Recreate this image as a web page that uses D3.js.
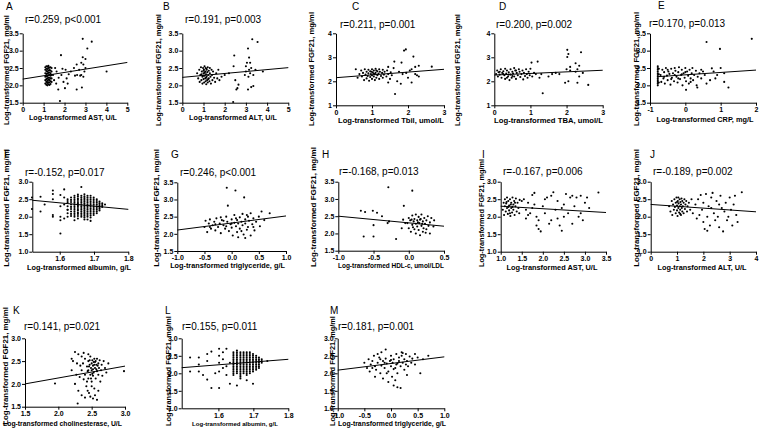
<!DOCTYPE html>
<html><head><meta charset="utf-8">
<script src="https://cdn.jsdelivr.net/npm/d3@7"></script>
<style>body{margin:0;background:#fff}svg{display:block}text{font-family:"Liberation Sans",Arial,sans-serif}</style>
</head><body><svg id="c" width="760" height="430"></svg>
<script>
// ---------- DATA ----------
const letters = ["A","B","C","D","E","F","G","H","I","J","K","L","M"];
const rTexts = ["r=0.259, p<0.001","r=0.191, p=0.003","r=0.211, p=0.001","r=0.200, p=0.002","r=0.170, p=0.013",
  "r=-0.152, p=0.017","r=0.246, p<0.001","r=-0.168, p=0.013","r=-0.167, p=0.006","r=-0.189, p=0.002",
  "r=0.141, p=0.021","r=0.155, p=0.011","r=0.181, p=0.001"];
const yTitle = "Log-transformed FGF21, mg/ml";
const xTitles = ["Log-transformed AST, U/L","Log-transformed ALT, U/L","Log-transformed Tbil, umol/L","Log-transformed TBA, umol/L",
  "Log-transformed CRP, mg/L","Log-transformed albumin, g/L","Log-transformed triglyceride, g/L","Log-transformed HDL-c, umol/LDL",
  "Log-transformed AST, U/L","Log-transformed ALT, U/L","Log-transformed cholinesterase, U/L","Log-transformed albumin, g/L",
  "Log-transformed triglyceride, g/L"];
const xDomains = [[0,5],[0,5],[0,3],[0,3],[-1,2],[1.52,1.8],[-1,1],[-1,0.5],[1,3.5],[0,4],[1.5,3],[1.495,1.8],[-1,1]];
const yDomains = [[1.5,3.5],[1.5,3.5],[1,4],[1,4],[1.5,3.5],[1,3],[1.5,3.5],[1.5,3.5],[1,3],[1,3],[1.5,3],[1,3],[1,3]];
const xTickVals = [[0,1,2,3,4,5],[0,1,2,3,4,5],[0,1,2,3],[0,1,2,3],[-1,0,1,2],[1.6,1.7,1.8],[-1,-0.5,0,0.5,1],
  [-1,-0.5,0,0.5],[1,1.5,2,2.5,3,3.5],[0,1,2,3,4],[1.5,2,2.5,3],[1.6,1.7,1.8],[-1,-0.5,0,0.5,1]];
const yTickVals = [[1.5,2,2.5,3,3.5],[1.5,2,2.5,3,3.5],[1,2,3,4],[1,2,3,4],[1.5,2,2.5,3,3.5],[1,1.5,2,2.5,3],
  [1.5,2,2.5,3,3.5],[1.5,2,2.5,3,3.5],[1,1.5,2,2.5,3],[1,1.5,2,2.5,3],[1.5,2,2.5,3],[1,1.5,2,2.5,3],[1,1.5,2,2.5,3]];
const xTickDec = [0,0,0,0,0,1,1,1,1,0,1,1,1];
const yTickDec = [1,1,0,0,1,1,1,1,1,1,1,1,1];
const lineX = [[0,5],[0,5],[0,3],[0,3],[-0.78,2],[1.52,1.8],[-1,1],[-1,0.5],[1,3.5],[0,4],[1.5,3],[1.495,1.8],[-1,1]];
const lineY = [[2.18,2.66],[2.23,2.51],[2.15,2.5],[2.26,2.46],[2.25,2.44],[2.47,2.21],[2.11,2.52],[2.5,2.21],[2.3,2.12],[2.35,2.14],[2.0,2.39],[2.16,2.4],[2.09,2.47]];

const ptsA = [[1.08,2.05],[1.08,2.15],[1.08,2.25],[1.08,2.35],[1.08,2.45],[1.08,2.52],
[1.13,2.02],[1.13,2.1],[1.13,2.18],[1.13,2.26],[1.13,2.33],[1.13,2.41],[1.13,2.48],[1.13,2.55],
[1.18,2.0],[1.18,2.07],[1.18,2.13],[1.18,2.2],[1.18,2.27],[1.18,2.34],[1.18,2.4],[1.18,2.47],[1.18,2.54],
[1.23,2.03],[1.23,2.09],[1.23,2.16],[1.23,2.22],[1.23,2.29],[1.23,2.36],[1.23,2.43],[1.23,2.5],[1.23,2.56],
[1.28,2.01],[1.28,2.08],[1.28,2.15],[1.28,2.22],[1.28,2.3],[1.28,2.37],[1.28,2.44],[1.28,2.51],
[1.33,2.04],[1.33,2.12],[1.33,2.2],[1.33,2.28],[1.33,2.35],[1.33,2.43],[1.33,2.52],
[1.38,2.1],[1.38,2.2],[1.38,2.3],[1.38,2.4],[1.38,2.5],
[1.45,2.3],[1.5,2.15],[1.55,2.5],[1.6,2.05],[1.62,2.4],[1.7,1.88],[1.72,2.22],[1.78,1.55],[1.83,2.87],[1.85,2.3],
[1.9,2.48],[1.95,2.1],[2.02,1.92],[2.05,2.45],[2.1,2.2],[2.15,2.05],[2.2,2.32],[2.3,2.4],[2.45,2.5],[2.5,2.28],
[2.58,2.6],[2.58,1.88],[2.6,2.3],[2.7,2.45],[2.8,2.65],[2.8,2.3],[2.83,1.94],[2.87,2.81],[2.87,3.34],[2.9,2.25],
[2.95,2.4],[3.0,2.76],[3.0,2.5],[3.09,3.06],[3.3,3.26],[4.01,2.4],[2.75,2.28],[2.9,2.6]];
const ptsB = [[0.7,2.35],[0.75,2.2],[0.8,2.45],[0.82,2.1],[0.85,2.3],[0.88,2.52],[0.9,2.15],[0.92,2.4],[0.95,2.25],[0.95,2.05],
[0.98,2.5],[1.0,2.35],[1.0,2.18],[1.02,2.45],[1.03,2.08],[1.05,2.28],[1.05,2.55],[1.08,2.4],[1.08,2.2],[1.1,2.12],[1.1,2.5],
[1.12,2.32],[1.13,2.03],[1.15,2.45],[1.15,2.25],[1.17,2.15],[1.18,2.38],[1.2,2.52],[1.2,2.08],[1.22,2.3],[1.25,2.42],[1.25,2.2],
[1.28,2.12],[1.3,2.5],[1.3,2.35],[1.33,2.25],[1.35,2.05],[1.38,2.45],[1.4,2.3],[1.42,2.15],[1.45,2.4],[1.5,2.22],[1.55,2.1],
[1.6,2.35],[1.65,2.2],[1.7,2.45],[1.75,2.15],[0.98,2.28],[1.06,2.36],[1.14,2.48],[1.22,2.18],[1.0,2.42],[1.12,2.22],[0.9,2.32],
[1.85,2.25],[2.0,2.3],[2.2,2.35],[2.4,1.52],[2.42,2.55],[2.45,2.86],[2.5,2.15],[2.55,1.88],[2.6,1.92],[2.65,2.02],[2.95,2.3],
[3.0,2.4],[3.05,2.65],[3.1,3.06],[3.1,1.88],[3.12,2.25],[3.15,2.8],[3.2,2.35],[3.2,2.65],[3.25,1.95],[3.25,2.5],[3.3,3.33],
[3.35,1.98],[3.35,2.3],[3.45,2.45],[3.55,3.25],[3.8,2.4],[3.0,2.55],[3.15,2.45]];
const ptsC = [[0.55,2.5],[0.6,2.15],[0.65,2.3],[0.7,2.45],[0.72,2.2],[0.75,2.35],[0.78,2.05],[0.8,2.5],[0.82,2.28],[0.85,2.4],
[0.85,2.12],[0.88,2.22],[0.9,2.48],[0.9,2.33],[0.92,2.02],[0.95,2.42],[0.95,2.18],[0.97,2.3],[1.0,2.5],[1.0,2.25],[1.0,2.1],
[1.02,2.38],[1.05,2.45],[1.05,2.2],[1.07,2.3],[1.08,2.05],[1.1,2.52],[1.1,2.35],[1.12,2.15],[1.15,2.42],[1.15,2.25],[1.18,2.32],
[1.2,2.5],[1.2,2.1],[1.22,2.4],[1.25,2.22],[1.28,2.35],[1.3,2.48],[1.3,2.15],[1.33,2.28],[1.35,2.4],[1.4,2.2],[1.42,2.45],
[1.45,2.3],[1.45,1.95],[1.5,2.1],[1.52,2.38],[1.55,2.25],[1.6,2.55],[0.98,2.4],[1.04,2.32],[1.12,2.45],
[1.62,2.82],[1.64,1.47],[1.7,2.0],[1.75,2.4],[1.8,1.9],[1.82,2.78],[1.85,2.3],[1.89,3.28],[1.94,3.33],[1.95,2.35],[2.0,2.15],
[2.05,2.45],[2.1,2.5],[2.1,1.95],[2.15,3.03],[2.2,2.6],[2.2,2.3],[2.25,2.25],[2.3,2.65],[2.3,2.2],[2.66,2.61],[1.45,2.6]];
const ptsD = [[0.05,2.3],[0.08,2.45],[0.1,2.2],[0.12,2.38],[0.15,2.28],[0.18,2.5],[0.2,2.15],[0.22,2.35],[0.25,2.42],[0.28,2.25],
[0.3,2.52],[0.3,2.1],[0.33,2.32],[0.35,2.45],[0.38,2.2],[0.4,2.38],[0.42,2.05],[0.45,2.5],[0.45,2.28],[0.48,2.15],[0.5,2.4],
[0.52,2.32],[0.55,2.55],[0.55,2.2],[0.58,2.45],[0.6,2.1],[0.62,2.35],[0.65,2.25],[0.68,2.5],[0.7,2.4],[0.72,2.18],[0.75,2.3],
[0.78,2.45],[0.8,2.08],[0.82,2.35],[0.85,2.22],[0.88,2.5],[0.9,2.3],[0.92,2.15],[0.95,2.4],[0.98,2.25],[1.0,2.52],[1.05,2.2],
[1.1,2.35],[0.25,2.3],[0.4,2.28],[0.5,2.22],[0.6,2.45],[0.35,2.15],[0.15,2.4],
[1.03,2.78],[1.15,2.3],[1.2,2.82],[1.25,2.15],[1.3,2.3],[1.34,1.5],[1.5,2.2],[1.6,2.3],[1.7,2.35],[1.8,2.3],[1.96,1.94],
[2.0,2.5],[2.02,3.31],[2.02,3.01],[2.05,2.0],[2.05,3.14],[2.1,2.45],[2.1,2.6],[2.25,2.75],[2.25,2.4],[2.3,2.5],[2.3,1.94],
[2.35,2.65],[2.35,2.2],[2.4,3.21],[2.45,2.35],[2.6,1.85]];
const ptsE = [[-0.78,2.0],[-0.78,2.05],[-0.78,2.1],[-0.78,2.15],[-0.78,2.2],[-0.78,2.25],[-0.78,2.3],[-0.78,2.35],[-0.78,2.4],
[-0.78,2.45],[-0.78,2.5],[-0.78,2.55],[-0.75,2.08],[-0.75,2.32],[-0.75,2.48],
[-0.7,2.3],[-0.68,2.1],[-0.65,2.45],[-0.62,2.2],[-0.6,2.38],[-0.58,2.05],[-0.55,2.5],[-0.52,2.28],[-0.5,2.15],[-0.48,2.4],
[-0.45,2.33],[-0.42,2.02],[-0.4,2.48],[-0.38,2.22],[-0.35,2.35],[-0.32,2.12],[-0.3,2.5],[-0.28,2.42],[-0.25,2.25],[-0.22,2.08],
[-0.2,2.38],[-0.18,2.52],[-0.15,2.18],[-0.12,2.3],[-0.1,2.45],[-0.08,2.0],[-0.05,2.35],[-0.02,2.22],[0.0,2.5],[0.02,2.12],
[0.05,2.4],[0.08,2.28],[0.1,2.05],[0.12,2.45],[0.15,2.2],[0.18,2.35],[0.2,2.5],[0.22,2.15],[0.25,2.3],[0.3,2.42],[0.32,2.0],
[0.35,2.25],[0.4,2.35],[-0.6,2.25],[-0.5,2.45],[-0.4,2.18],[-0.3,2.3],[-0.2,2.2],[-0.1,2.32],[0.0,2.38],
[0.02,1.87],[0.15,2.1],[0.34,1.94],[0.45,2.2],[0.5,2.4],[0.55,2.3],[0.6,3.25],[0.7,2.15],[0.75,2.49],[0.8,2.4],[0.85,2.2],
[0.9,2.3],[0.98,3.05],[1.0,2.5],[1.1,2.35],[1.1,2.1],[1.22,1.94],[1.88,3.34],[0.6,2.05],[0.45,2.45]];
const ptsF = [[1.519,2.55],[1.519,2.22],[1.544,2.57],[1.544,2.15],[1.556,2.35],[1.58,2.75],[1.58,2.65],[1.58,2.5],[1.58,2.05],
[1.58,2.0],[1.602,2.62],[1.602,2.3],[1.602,2.0],[1.602,1.9],[1.602,1.52],[1.613,2.55],[1.613,2.78],[1.613,2.35],[1.613,1.95],
[1.623,2.2],[1.623,2.45],[1.663,2.85],[1.643,1.9],[1.69,1.88],[1.681,1.92]];
const stripesF = [[1.623,[2.0,2.1,2.2,2.3,2.4,2.5]],
[1.633,[2.02,2.08,2.15,2.22,2.28,2.35,2.42,2.48,2.55]],
[1.643,[2.0,2.05,2.1,2.15,2.2,2.25,2.3,2.35,2.4,2.45,2.5,2.55,2.6]],
[1.653,[1.95,2.02,2.08,2.12,2.18,2.22,2.28,2.33,2.38,2.42,2.48,2.52,2.58,2.63]],
[1.663,[2.0,2.05,2.1,2.15,2.2,2.25,2.3,2.35,2.4,2.45,2.5,2.55,2.6]],
[1.672,[1.92,1.98,2.03,2.08,2.13,2.18,2.23,2.28,2.33,2.38,2.43,2.48,2.53,2.58,2.64]],
[1.681,[2.0,2.05,2.1,2.15,2.2,2.25,2.3,2.35,2.4,2.45,2.5,2.55,2.6]],
[1.690,[1.98,2.04,2.09,2.14,2.19,2.24,2.29,2.34,2.39,2.44,2.49,2.54,2.6]],
[1.699,[2.05,2.1,2.15,2.2,2.25,2.3,2.35,2.4,2.45,2.5,2.55]],
[1.708,[2.1,2.15,2.2,2.25,2.3,2.35,2.4,2.45,2.5]],
[1.716,[2.18,2.23,2.28,2.33,2.38,2.43]],
[1.724,[2.28,2.33,2.38]],
[1.732,[2.35]]];
const ptsG = [[-0.5,2.2],[-0.48,2.38],[-0.45,2.05],[-0.42,2.3],[-0.4,2.42],[-0.38,2.15],[-0.35,2.25],[-0.32,2.35],[-0.3,2.1],
[-0.28,2.45],[-0.25,2.2],[-0.22,2.3],[-0.2,2.02],[-0.18,2.4],[-0.15,2.25],[-0.12,2.15],[-0.1,2.5],[-0.08,2.35],[-0.05,2.08],
[-0.02,2.28],[0.0,2.42],[0.0,2.18],[0.02,1.95],[0.05,2.32],[0.05,2.55],[0.08,2.22],[0.1,2.4],[0.1,2.05],[0.12,2.3],[0.15,2.48],
[0.15,2.15],[0.18,2.35],[0.2,2.25],[0.2,2.58],[0.22,1.98],[0.25,2.42],[0.25,2.3],[0.28,2.12],[0.3,2.5],[0.3,2.2],[0.32,2.38],
[0.35,1.95],[0.35,2.6],[0.38,2.28],[0.4,2.45],[0.42,2.1],[0.45,2.35],[0.5,2.5],[0.52,2.22],[0.55,2.65],[0.6,2.4],[0.7,2.6],
[-0.3,2.28],[-0.1,2.22],[0.08,2.45],[-0.2,2.48],[0.0,2.3],[0.18,2.08],[-0.4,2.2],[0.4,2.2],[0.28,2.55],[-0.15,2.38],[0.12,1.9],
[0.25,1.88],[-0.09,3.34],[0.07,3.26],[0.23,3.06],[-0.07,2.82]];
const ptsH = [[-0.02,2.3],[0.0,2.45],[0.0,2.15],[0.02,2.38],[0.03,2.05],[0.05,2.25],[0.05,2.52],[0.07,2.35],[0.08,2.12],[0.08,2.42],
[0.1,2.28],[0.1,2.0],[0.1,2.55],[0.12,2.2],[0.12,2.38],[0.14,2.48],[0.14,2.1],[0.15,2.3],[0.16,1.95],[0.17,2.42],[0.18,2.22],
[0.18,2.55],[0.2,2.35],[0.2,2.05],[0.21,2.15],[0.22,2.45],[0.23,2.28],[0.25,2.38],[0.25,2.12],[0.27,2.5],[0.28,2.22],[0.3,2.32],
[0.3,2.0],[0.32,2.45],[0.35,2.2],[0.36,2.38],[0.06,2.18],[0.13,2.32],[0.19,2.28],[0.24,2.02],[0.16,2.4],[0.04,2.4],
[-0.68,2.66],[-0.62,2.62],[-0.64,1.91],[-0.51,2.66],[-0.5,2.24],[-0.5,1.91],[-0.45,2.6],[-0.38,2.5],[-0.3,2.3],[-0.28,2.35],
[-0.29,3.34],[-0.18,1.84],[-0.1,2.15],[-0.08,2.4],[-0.07,2.8],[-0.05,2.3],[0.05,3.24]];
const ptsI = [[1.05,2.2],[1.07,2.4],[1.08,2.05],[1.1,2.3],[1.1,2.5],[1.12,2.15],[1.13,2.38],[1.15,2.25],[1.15,2.55],[1.17,2.08],
[1.18,2.45],[1.2,2.32],[1.2,2.18],[1.22,2.5],[1.23,2.02],[1.25,2.4],[1.25,2.25],[1.27,2.12],[1.28,2.55],[1.3,2.35],[1.3,2.2],
[1.32,2.45],[1.33,2.05],[1.35,2.3],[1.36,2.52],[1.38,2.15],[1.4,2.4],[1.42,2.25],[1.44,2.1],[1.45,2.48],[1.18,2.28],[1.24,2.35],
[1.28,2.28],[1.14,2.42],[1.22,2.1],[1.34,2.4],
[1.5,2.45],[1.55,2.5],[1.6,2.2],[1.65,2.4],[1.7,2.1],[1.75,2.62],[1.8,2.68],[1.8,2.35],[1.85,2.0],[1.85,1.75],[1.9,1.9],
[1.9,1.65],[1.95,1.58],[2.0,2.3],[2.05,2.1],[2.1,2.55],[2.15,1.8],[2.2,1.9],[2.2,2.6],[2.25,2.7],[2.3,2.2],[2.35,2.45],
[2.35,1.95],[2.4,1.75],[2.45,1.6],[2.5,2.35],[2.5,2.0],[2.55,2.65],[2.6,2.1],[2.65,2.55],[2.7,1.8],[2.75,2.3],[2.8,2.55],
[2.85,2.0],[2.9,2.6],[2.95,1.9],[3.1,2.25],[2.9,2.1],[2.7,2.6],[3.0,2.4],[3.32,2.69],[1.6,1.95],[1.75,2.25],[2.05,2.5],
[2.45,2.25],[3.05,2.55],[1.65,2.05]];
const ptsJ = [[0.7,2.3],[0.75,2.15],[0.8,2.45],[0.82,2.05],[0.85,2.35],[0.88,2.2],[0.9,2.5],[0.92,2.28],[0.95,2.1],[0.95,2.4],
[0.98,2.55],[1.0,2.32],[1.0,2.18],[1.02,2.02],[1.03,2.45],[1.05,2.25],[1.06,2.38],[1.08,2.12],[1.1,2.5],[1.1,2.3],[1.12,2.2],
[1.13,2.42],[1.15,2.05],[1.15,2.35],[1.17,2.52],[1.18,2.25],[1.2,2.15],[1.2,2.45],[1.22,2.3],[1.25,2.4],[1.25,2.1],[1.28,2.5],
[1.3,2.22],[1.32,2.35],[1.35,2.45],[1.38,2.15],[1.4,2.3],[1.05,2.55],[1.12,2.08],[1.0,2.42],
[1.45,2.4],[1.5,2.2],[1.55,2.5],[1.6,2.1],[1.7,2.35],[1.75,1.95],[1.8,2.5],[1.9,2.62],[1.95,2.2],[2.0,1.85],[2.0,2.4],
[2.05,1.65],[2.1,2.65],[2.15,2.0],[2.15,1.6],[2.2,2.3],[2.25,1.75],[2.3,2.55],[2.35,2.68],[2.4,2.1],[2.45,1.9],[2.5,2.45],
[2.55,2.0],[2.6,1.7],[2.65,2.6],[2.7,2.25],[2.75,1.58],[2.8,2.15],[2.85,2.4],[2.9,1.9],[3.0,2.55],[3.05,2.2],[3.1,1.75],
[3.2,2.6],[3.25,2.05],[3.3,1.85],[3.46,2.7],[3.15,2.35],[2.6,2.35],[1.85,2.05],[2.3,2.25],[2.95,2.0]];
const ptsK = [[2.35,2.3],[2.37,2.45],[2.38,2.1],[2.4,2.2],[2.4,2.55],[2.42,1.95],[2.43,2.38],[2.44,2.28],[2.45,2.5],[2.45,2.12],
[2.46,1.8],[2.47,2.42],[2.48,2.2],[2.48,2.6],[2.49,2.35],[2.5,2.05],[2.5,2.45],[2.5,2.3],[2.51,2.52],[2.52,2.18],[2.52,2.4],
[2.53,2.25],[2.54,2.55],[2.54,1.9],[2.55,2.35],[2.55,2.48],[2.56,2.12],[2.57,2.42],[2.58,2.28],[2.58,2.55],[2.6,2.2],[2.6,2.45],
[2.61,2.35],[2.62,2.52],[2.63,2.05],[2.64,2.3],[2.65,2.42],[2.66,2.18],[2.68,2.5],[2.7,2.35],[2.72,2.25],[2.48,1.72],
[2.52,1.68],[2.55,1.75],[2.58,1.65],[2.44,1.85],[2.5,1.95],[2.53,2.48],[2.47,2.52],[2.56,2.5],[2.43,2.05],[2.6,1.85],
[2.46,2.38],[2.51,2.22],[2.57,2.32],[2.49,2.12],[2.54,2.42],[2.45,2.3],[2.59,2.4],[2.52,2.32],
[1.95,2.01],[2.2,2.55],[2.22,2.5],[2.25,2.7],[2.3,2.65],[2.2,2.3],[2.25,2.0],[2.28,2.45],[2.3,1.85],[2.32,2.15],[2.35,1.75],
[2.29,1.57],[2.38,2.68],[2.45,2.65],[2.35,2.6],[2.4,1.7],[2.985,2.28],[2.27,2.2],[2.33,2.4],[2.75,2.45]];
const ptsL = [[1.519,2.45],[1.519,2.05],[1.544,2.25],[1.544,2.05],[1.556,1.95],[1.568,2.55],[1.568,2.35],[1.568,1.82],
[1.58,1.58],[1.591,2.0],[1.602,2.5],[1.602,2.3],[1.602,2.05],[1.602,1.58],[1.613,2.6],[1.613,2.4],[1.613,2.15],[1.623,2.7],
[1.623,1.95],[1.633,1.7],[1.58,2.62],[1.602,2.7],[1.544,2.45],[1.633,2.3],[1.623,2.2],[1.699,1.7],[1.663,1.85],[1.681,1.8],
[1.653,1.65],[1.74,2.35]];
const stripesL = [[1.643,[1.95,2.0,2.05,2.1,2.15,2.2,2.25,2.3,2.35,2.4,2.45,2.5,2.55,2.6]],
[1.653,[2.0,2.05,2.1,2.15,2.2,2.25,2.3,2.35,2.4,2.45,2.5,2.55,2.6,2.65]],
[1.663,[1.9,1.95,2.0,2.05,2.1,2.15,2.2,2.25,2.3,2.35,2.4,2.45,2.5,2.55,2.6]],
[1.672,[2.0,2.05,2.1,2.15,2.2,2.25,2.3,2.35,2.4,2.45,2.5,2.55,2.6]],
[1.681,[1.95,2.0,2.05,2.1,2.15,2.2,2.25,2.3,2.35,2.4,2.45,2.5,2.55,2.6]],
[1.690,[2.0,2.05,2.1,2.15,2.2,2.25,2.3,2.35,2.4,2.45,2.5,2.55,2.6]],
[1.699,[2.05,2.1,2.15,2.2,2.25,2.3,2.35,2.4,2.45,2.5,2.55]],
[1.708,[2.1,2.15,2.2,2.25,2.3,2.35,2.4,2.45,2.5]],
[1.716,[2.15,2.2,2.25,2.3,2.35,2.4,2.45]],
[1.724,[2.3,2.35,2.4]]];
const ptsM = [[-0.5,2.3],[-0.45,2.15],[-0.42,2.4],[-0.4,2.05],[-0.38,2.25],[-0.35,2.35],[-0.32,2.5],[-0.3,2.2],[-0.28,2.1],
[-0.25,2.3],[-0.22,2.45],[-0.2,2.0],[-0.18,2.6],[-0.18,2.22],[-0.15,2.35],[-0.15,1.85],[-0.12,2.15],[-0.1,2.42],[-0.1,2.68],
[-0.08,2.28],[-0.05,2.05],[-0.05,1.75],[-0.02,2.35],[0.0,2.2],[0.0,2.5],[0.02,1.9],[0.03,2.3],[0.05,2.4],[0.05,1.65],
[0.08,2.15],[0.1,2.55],[0.1,2.25],[0.12,2.0],[0.12,1.6],[0.15,2.45],[0.15,2.35],[0.18,2.2],[0.2,2.6],[0.2,2.5],[0.22,2.3],
[0.25,2.4],[0.25,2.1],[0.28,2.55],[0.3,2.35],[0.3,1.95],[0.32,2.2],[0.35,2.48],[0.38,2.3],[0.4,2.42],[0.45,2.25],[0.5,2.45],
[0.55,2.0],[0.6,2.4],[0.7,2.5],[0.45,2.55],[-0.25,2.55],[-0.3,1.9],[0.08,1.8],[0.18,1.58],[-0.08,2.0],[0.22,2.58],[0.0,2.38],
[-0.12,2.3],[0.12,2.28],[-0.2,2.4],[0.28,2.25],[0.05,2.12],[-0.35,2.15]];

// ---------- LAYOUT ----------
const flat = s => s.flatMap(([x, ys]) => ys.map(y => [x, y]));
const allPts = [ptsA, ptsB, ptsC, ptsD, ptsE, ptsF.concat(flat(stripesF)), ptsG, ptsH, ptsI, ptsJ, ptsK, ptsL.concat(flat(stripesL)), ptsM];
const lay = [
 {x:[22.7,127.3],y:[33.3,102.7],lt:[6,10],rt:[25,22.6],yt:[5.5,70,110],xt:[73,120.3,88]},
 {x:[182.3,288.3],y:[33.3,102.7],lt:[163,10],rt:[185,22.6],yt:[157.5,70,112],xt:[233,120.3,88]},
 {x:[336,444],y:[33.3,105.3],lt:[352,10],rt:[340,28],yt:[310.5,69,114],xt:[391,123.3,106]},
 {x:[494.3,602.7],y:[33.3,105.3],lt:[499,10],rt:[496,27.6],yt:[457,70,112],xt:[548.5,123.3,109]},
 {x:[650,756],y:[33.3,102.7],lt:[658,9],rt:[649,27],yt:[636,69,114],xt:[705,122.3,97]},
 {x:[32.3,128.3],y:[181.7,251.7],lt:[4,158],rt:[25,176],yt:[5.5,208,118],xt:[79,270.3,104]},
 {x:[177.3,286],y:[182.3,251],lt:[171,158],rt:[180,176],yt:[156,208,118],xt:[227.5,268.3,115]},
 {x:[338.3,444],y:[181.7,250.7],lt:[322,158],rt:[339,175.3],yt:[312.5,207,120],xt:[391,268.3,106]},
 {x:[500.7,606],y:[181.7,251.7],lt:[482,158],rt:[503,175.3],yt:[480.5,213,108],xt:[552,270.3,91]},
 {x:[650.7,756],y:[181.7,251.7],lt:[650,158],rt:[653,175.3],yt:[635.5,208,118],xt:[702,270.3,89]},
 {x:[25,125],y:[338.3,406.7],lt:[13,314],rt:[24,330.3],yt:[5,366,118],xt:[62.5,426,119]},
 {x:[181.7,288.3],y:[338.3,408.3],lt:[165,314],rt:[182,330.3],yt:[167.5,371,110],xt:[235,426,86]},
 {x:[337.7,444.3],y:[338.3,408.3],lt:[330,314],rt:[338,330.3],yt:[331.5,371,110],xt:[392,426,108]}
];

const svg = d3.select("#c");
svg.append("rect").attr("width",760).attr("height",430).attr("fill","#fff");

// fit a title's natural length to the target by adjusting its font size (no glyph stretching)
function fitText(sel, target, base) {
  sel.style("font-size", base + "px");
  const len = sel.node().getComputedTextLength();
  if (len > 0) sel.style("font-size", Math.min(base * 1.05, base * target / len).toFixed(2) + "px");
}
const titleFont = '"Liberation Sans Narrow","Liberation Sans",Arial,sans-serif';

letters.forEach((letter, i) => {
  const L = lay[i];
  const g = svg.append("g");
  const xs = d3.scaleLinear().domain(xDomains[i]).range(L.x);
  const ys = d3.scaleLinear().domain(yDomains[i]).range([L.y[1], L.y[0]]);

  const xa = g.append("g").attr("transform", `translate(0,${L.y[1]})`)
    .call(d3.axisBottom(xs).tickValues(xTickVals[i]).tickFormat(d => d.toFixed(xTickDec[i])).tickSize(3).tickSizeOuter(0).tickPadding(1.5));
  const ya = g.append("g").attr("transform", `translate(${L.x[0]},0)`)
    .call(d3.axisLeft(ys).tickValues(yTickVals[i]).tickFormat(d => d.toFixed(yTickDec[i])).tickSize(3).tickSizeOuter(0).tickPadding(1));
  [xa, ya].forEach(a => {
    a.attr("font-family", null).attr("font-size", null);
    a.selectAll("path,line").attr("stroke", "#000").attr("stroke-width", 1);
    a.selectAll("text").attr("fill", "#000").style("font-size", "7px").style("font-weight", "bold");
  });

  g.append("g").selectAll("circle").data(allPts[i]).join("circle")
    .attr("cx", d => xs(d[0])).attr("cy", d => ys(d[1])).attr("r", 1.05).attr("fill", "#000");

  g.append("line").attr("x1", xs(lineX[i][0])).attr("x2", xs(lineX[i][1]))
    .attr("y1", ys(lineY[i][0])).attr("y2", ys(lineY[i][1])).attr("stroke", "#000").attr("stroke-width", 1);

  g.append("text").attr("x", L.lt[0]).attr("y", L.lt[1]).style("font-size", "10px").text(letter);
  g.append("text").attr("x", L.rt[0]).attr("y", L.rt[1]).style("font-size", "10px").text(rTexts[i]);
  const yt = g.append("text").attr("transform", `translate(${L.yt[0] + 3},${L.yt[1]}) rotate(-90)`)
    .attr("text-anchor", "middle").style("font-family", titleFont).style("font-weight", "bold").text(yTitle);
  fitText(yt, L.yt[2], 9);
  const xt = g.append("text").attr("x", L.xt[0]).attr("y", L.xt[1]).attr("text-anchor", "middle")
    .style("font-family", titleFont).style("font-weight", "bold").text(xTitles[i]);
  fitText(xt, L.xt[2], 9);
});
</script></body></html>
